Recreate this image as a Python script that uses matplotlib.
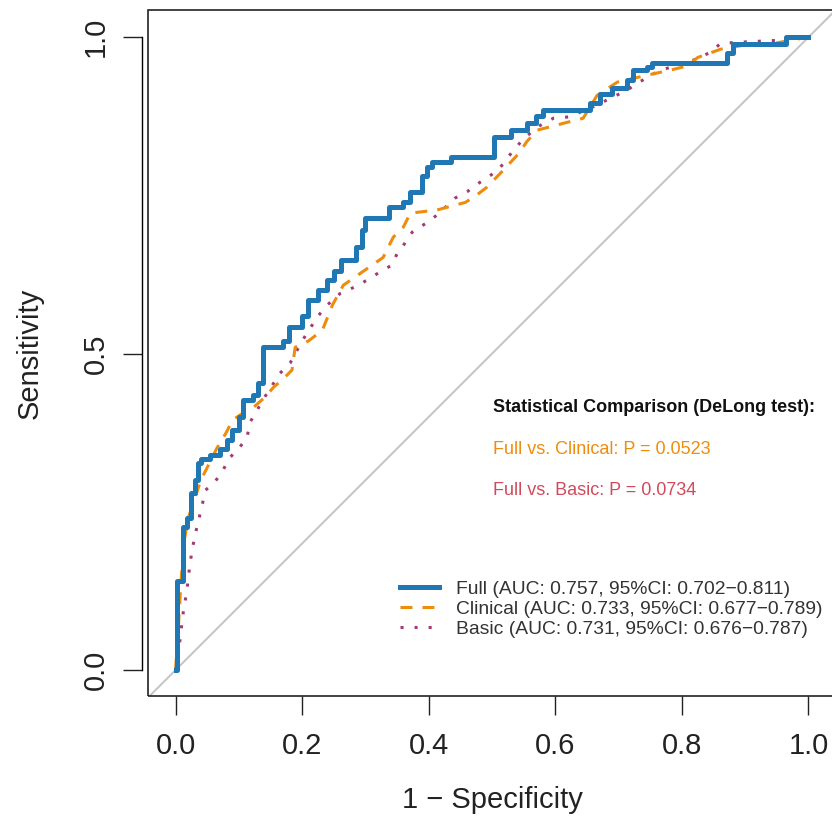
import matplotlib
matplotlib.use("Agg")
import matplotlib.pyplot as plt
from matplotlib.patches import Rectangle
from matplotlib import font_manager

# ROC curves (x = 1 - specificity, y = sensitivity)
full_fpr = [0, 0.003, 0.003, 0.012, 0.012, 0.018, 0.018, 0.025, 0.025, 0.030, 0.030, 0.036, 0.036,
            0.040, 0.040, 0.055, 0.055, 0.070, 0.070, 0.082, 0.082, 0.090, 0.090, 0.100, 0.100,
            0.107, 0.107, 0.122, 0.122, 0.130, 0.130, 0.138, 0.138, 0.170, 0.170, 0.180, 0.180,
            0.200, 0.200, 0.210, 0.210, 0.225, 0.225, 0.240, 0.240, 0.250, 0.250, 0.262, 0.262,
            0.285, 0.285, 0.295, 0.295, 0.300, 0.300, 0.337, 0.337, 0.360, 0.360, 0.370, 0.370,
            0.390, 0.390, 0.397, 0.397, 0.405, 0.405, 0.435, 0.435, 0.503, 0.503, 0.530, 0.530,
            0.555, 0.555, 0.570, 0.570, 0.580, 0.580, 0.655, 0.655, 0.670, 0.670, 0.690, 0.690,
            0.714, 0.714, 0.723, 0.723, 0.745, 0.745, 0.753, 0.753, 0.872, 0.872, 0.880, 0.880,
            0.965, 0.965, 1.0]
full_tpr = [0, 0, 0.140, 0.140, 0.226, 0.226, 0.240, 0.240, 0.280, 0.280, 0.300, 0.300, 0.327,
            0.327, 0.333, 0.333, 0.340, 0.340, 0.350, 0.350, 0.363, 0.363, 0.380, 0.380, 0.400,
            0.400, 0.427, 0.427, 0.434, 0.434, 0.453, 0.453, 0.510, 0.510, 0.520, 0.520, 0.542,
            0.542, 0.560, 0.560, 0.585, 0.585, 0.600, 0.600, 0.616, 0.616, 0.630, 0.630, 0.648,
            0.648, 0.668, 0.668, 0.695, 0.695, 0.714, 0.714, 0.731, 0.731, 0.740, 0.740, 0.755,
            0.755, 0.780, 0.780, 0.795, 0.795, 0.803, 0.803, 0.810, 0.810, 0.842, 0.842, 0.853,
            0.853, 0.864, 0.864, 0.875, 0.875, 0.885, 0.885, 0.896, 0.896, 0.910, 0.910, 0.920,
            0.920, 0.932, 0.932, 0.948, 0.948, 0.953, 0.953, 0.960, 0.960, 0.975, 0.975, 0.990,
            0.990, 1.0, 1.0]

clin_fpr = [0, 0.004, 0.008, 0.013, 0.020, 0.030, 0.040, 0.050, 0.065, 0.080, 0.090, 0.105,
            0.123, 0.140, 0.155, 0.170, 0.184, 0.189, 0.210, 0.232, 0.248, 0.265, 0.295, 0.328,
            0.344, 0.360, 0.371, 0.413, 0.458, 0.475, 0.492, 0.518, 0.542, 0.555, 0.571, 0.613,
            0.644, 0.655, 0.666, 0.698, 0.745, 0.782, 0.810, 0.825, 0.861, 0.913, 0.945, 0.970, 1.0]
clin_tpr = [0, 0.060, 0.130, 0.200, 0.240, 0.270, 0.300, 0.320, 0.350, 0.375, 0.395, 0.405,
            0.415, 0.430, 0.447, 0.460, 0.474, 0.510, 0.520, 0.537, 0.577, 0.608, 0.629, 0.652,
            0.684, 0.700, 0.722, 0.727, 0.739, 0.750, 0.763, 0.790, 0.816, 0.835, 0.853, 0.864,
            0.872, 0.890, 0.908, 0.929, 0.940, 0.948, 0.955, 0.968, 0.981, 0.990, 0.990, 0.995, 1.0]

basic_fpr = [0, 0.003, 0.007, 0.012, 0.018, 0.023, 0.030, 0.042, 0.047, 0.062, 0.075, 0.086,
             0.100, 0.113, 0.118, 0.140, 0.165, 0.181, 0.200, 0.224, 0.240, 0.260, 0.289, 0.323,
             0.342, 0.350, 0.360, 0.374, 0.391, 0.407, 0.425, 0.442, 0.461, 0.477, 0.492, 0.510,
             0.524, 0.550, 0.575, 0.597, 0.621, 0.660, 0.690, 0.713, 0.729, 0.766, 0.810, 0.845,
             0.861, 0.888, 0.950, 1.0]
basic_tpr = [0, 0.020, 0.047, 0.090, 0.126, 0.170, 0.210, 0.260, 0.284, 0.297, 0.316, 0.336,
             0.350, 0.368, 0.392, 0.430, 0.469, 0.485, 0.520, 0.558, 0.577, 0.595, 0.608, 0.629,
             0.640, 0.658, 0.671, 0.692, 0.703, 0.714, 0.730, 0.746, 0.756, 0.768, 0.778, 0.790,
             0.809, 0.840, 0.860, 0.872, 0.874, 0.890, 0.905, 0.916, 0.927, 0.948, 0.960, 0.976,
             0.990, 0.992, 0.995, 1.0]

labels = ["Full (AUC: 0.757, 95%CI: 0.702\u22120.811)",
          "Clinical (AUC: 0.733, 95%CI: 0.677\u22120.789)",
          "Basic (AUC: 0.731, 95%CI: 0.676\u22120.787)"]
compare_title = "Statistical Comparison (DeLong test):"
compare_lines = ["Full vs. Clinical: P = 0.0523", "Full vs. Basic: P = 0.0734"]

c_full = "#1F77B4"
c_clin = "#EE8C0E"
c_basic = "#A23B72"
c_basic_txt = "#D1495B"

names = {f.name for f in font_manager.fontManager.ttflist}
axis_font = "Liberation Sans Narrow" if "Liberation Sans Narrow" in names else "Liberation Sans"
plt.rcParams["font.family"] = ["Liberation Sans", "DejaVu Sans"]

fig = plt.figure(figsize=(8.32, 8.30), dpi=100)
ax = fig.add_axes([148 / 832, (830 - 696) / 830, 688 / 832, 686 / 830])
ax.set_xlim(-0.0435, 1.0435)
ax.set_ylim(-0.041, 1.043)

ax.axline((0, 0), (1, 1), color="#C4C4C4", lw=1.4, zorder=1)
ax.plot(full_fpr, full_tpr, color=c_full, lw=3.6, label=labels[0], zorder=4)
ax.plot(clin_fpr, clin_tpr, color=c_clin, lw=2.2, ls=(0, (3.9, 3.3)), label=labels[1], zorder=3)
ax.plot(basic_fpr, basic_tpr, color=c_basic, lw=2.2, ls=(0, (1.0, 3.6)), label=labels[2], zorder=2)

# box around plot region, separate offset y axis
for s in ["top", "right", "bottom"]:
    ax.spines[s].set_visible(False)
ax.add_patch(Rectangle((0, 0), 1, 1, transform=ax.transAxes, fill=False,
                       lw=1.2, ec="#222222", clip_on=False, zorder=5))
ax.spines["left"].set_position(("outward", 4.5))
ax.spines["left"].set_bounds(0, 1)
ax.spines["left"].set_linewidth(1.0)

ax.set_xticks([0, 0.2, 0.4, 0.6, 0.8, 1.0])
ax.set_xticklabels(["0.0", "0.2", "0.4", "0.6", "0.8", "1.0"])
ax.set_yticks([0, 0.5, 1.0])
ax.set_yticklabels(["0.0", "0.5", "1.0"], rotation=90, va="center")
ax.tick_params(axis="both", direction="out", length=14, width=1.0, color="#222222",
               labelsize=21, labelcolor="#222222")
ax.tick_params(axis="x", pad=12)
ax.tick_params(axis="y", pad=9)
for t in ax.get_xticklabels() + ax.get_yticklabels():
    t.set_fontfamily(axis_font)

ax.set_xlabel("1 \u2212 Specificity", fontsize=21, family=axis_font, color="#222222")
ax.set_ylabel("Sensitivity", fontsize=21, family=axis_font, color="#222222")
ax.xaxis.set_label_coords(0.5, -0.1516)
ax.xaxis.label.set_va("center")
ax.yaxis.set_label_coords(-0.1715, 0.5)
ax.yaxis.label.set_va("center")

ax.legend(loc="center left", bbox_to_anchor=(0.355, 0.0964), bbox_transform=ax.transData,
          frameon=False, fontsize=13.9, handlelength=2.0, handletextpad=0.9,
          borderpad=0, borderaxespad=0, labelspacing=0.12, labelcolor="#333333")

ax.text(0.502, 0.4155, compare_title, fontsize=13, fontweight="bold", color="#111111", va="center")
ax.text(0.502, 0.349, compare_lines[0], fontsize=13, color=c_clin, va="center")
ax.text(0.502, 0.284, compare_lines[1], fontsize=13, color=c_basic_txt, va="center")

fig.savefig("out.png", dpi=100)
